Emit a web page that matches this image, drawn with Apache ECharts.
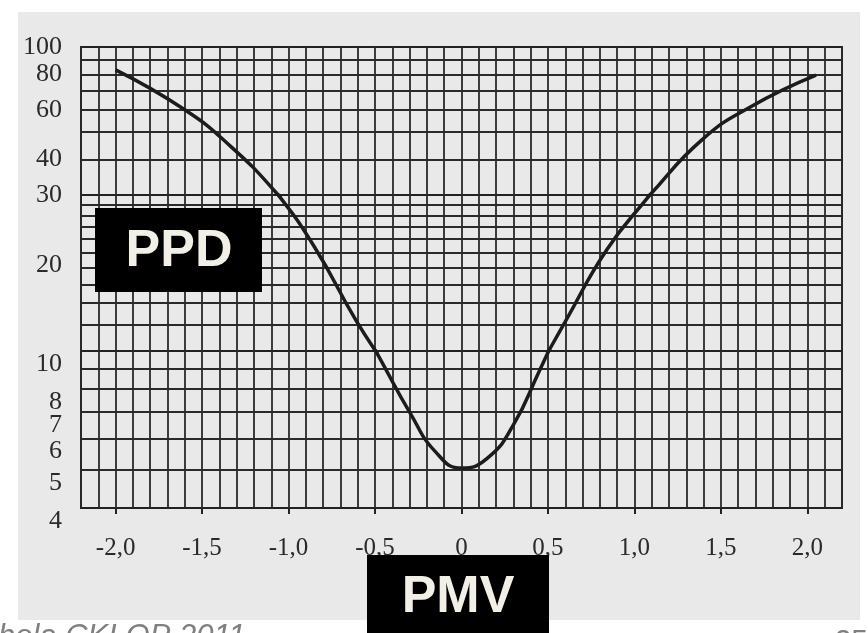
<!DOCTYPE html>
<html>
<head>
<meta charset="utf-8">
<script src="https://cdn.jsdelivr.net/npm/echarts@6/dist/echarts.min.js"></script>
<style>
  html, body { margin: 0; padding: 0; background: #fff; }
  #chart { width: 868px; height: 633px; }
</style>
</head>
<body>
<div id="chart"></div>
<script>
// PPD (%) vs PMV
var pmv = [-2.0, -1.6, -1.33, -1.07, -0.85, -0.61, -0.45, -0.3, -0.15, 0, 0.15, 0.3, 0.45, 0.6, 0.84, 1.08, 1.39, 1.67, 2.05];
var ppd = [83, 60, 44.3, 30.5, 20.8, 12.4, 9.2, 7.0, 5.55, 5.05, 5.35, 6.5, 8.9, 12.3, 20.4, 29.6, 47, 61.4, 79.5];

// x axis ticks
var xTickValues = [-2.0, -1.5, -1.0, -0.5, 0, 0.5, 1.0, 1.5, 2.0];

// the y scale of the figure is drawn in three log bands
var bandRanges = [[30, 100], [10, 30], [4, 10]];
var bandLines = [[40, 50, 60, 70, 80, 90], [12, 14, 16, 18, 20, 22, 24, 26, 28], [5, 6, 7, 8, 9]];
var bandLabels = [[30, 40, 60, 80, 100], [20], [4, 5, 6, 7, 8, 10]];

var bandTop = [47, 195, 351];
var bandHeight = [148, 156, 157];
var gridColor = '#2a2a2a';

var data = pmv.map(function (x, i) { return [x, ppd[i]]; });

var grids = [], xAxes = [], yAxes = [], series = [];
for (var i = 0; i < 3; i++) {
  grids.push({
    left: 81, right: 26, top: bandTop[i], height: bandHeight[i],
    show: true, borderColor: '#222', borderWidth: 2
  });
  xAxes.push({
    gridIndex: i, type: 'value', position: 'bottom', min: -2.2, max: 2.2, interval: 0.1,
    axisLine: { show: false }, axisTick: { show: false }, axisLabel: { show: false },
    splitLine: { show: true, lineStyle: { color: gridColor, width: 1.8 } }
  });
  yAxes.push({
    gridIndex: i, type: 'log', logBase: 10, min: bandRanges[i][0], max: bandRanges[i][1],
    axisLine: { show: false }, axisTick: { show: false }, splitLine: { show: false },
    axisLabel: {
      show: true, customValues: bandLabels[i], margin: 19,
      fontFamily: 'Liberation Serif', fontSize: 26, color: '#2a2a2a',
      verticalAlign: i === 0 ? 'middle' : 'top'
    }
  });
  series.push({
    type: 'line', xAxisIndex: i, yAxisIndex: i, data: data,
    smooth: 0.5, showSymbol: false, clip: true, animation: false,
    lineStyle: { color: '#1c1c1c', width: 3.5 },
    markLine: {
      silent: true, symbol: 'none', animation: false,
      label: { show: false },
      lineStyle: { color: gridColor, width: 1.8, type: 'solid' },
      data: bandLines[i].map(function (v) { return { yAxis: v }; })
    },
    z: 5
  });
}

// labelled PMV axis under the lowest band
xAxes.push({
  gridIndex: 2, type: 'value', position: 'bottom', min: -2.2, max: 2.2,
  axisLine: { show: false },
  splitLine: { show: false },
  axisTick: { show: true, inside: false, length: 6, customValues: xTickValues, lineStyle: { color: '#222', width: 2 } },
  axisLabel: {
    show: true, customValues: xTickValues, margin: 28,
    fontFamily: 'Liberation Serif', fontSize: 25, color: '#2a2a2a',
    formatter: function (v) { return v === 0 ? '0' : v.toFixed(1).replace('.', ','); }
  }
});

var myChart = echarts.init(document.getElementById('chart'));
myChart.setOption({
  animation: false,
  graphic: [
    { type: 'rect', z: -10, shape: { x: 18, y: 12, width: 842, height: 608 }, style: { fill: '#e9e9e9' } },
    { type: 'rect', z: 100, shape: { x: 95, y: 208, width: 167, height: 84 }, style: { fill: '#000' } },
    { type: 'text', z: 101, style: { text: 'PPD', x: 179, y: 252, textAlign: 'center', textVerticalAlign: 'middle',
      font: 'bold 52px "Liberation Sans", Arial, sans-serif', fill: '#f2efe6' } },
    { type: 'rect', z: 100, shape: { x: 367, y: 555, width: 182, height: 78 }, style: { fill: '#000' } },
    { type: 'text', z: 101, style: { text: 'PMV', x: 458, y: 598, textAlign: 'center', textVerticalAlign: 'middle',
      font: 'bold 52px "Liberation Sans", Arial, sans-serif', fill: '#f2efe6' } },
    { type: 'text', z: 101, style: { text: 'hola CKLOP 2011', x: -2, y: 622, textAlign: 'left', textVerticalAlign: 'top',
      font: 'italic 31px "Liberation Sans", Arial, sans-serif', fill: '#808080' } },
    { type: 'text', z: 101, style: { text: '25', x: 868, y: 627, textAlign: 'right', textVerticalAlign: 'top',
      font: '30px "Liberation Sans", Arial, sans-serif', fill: '#808080' } }
  ],
  grid: grids,
  xAxis: xAxes,
  yAxis: yAxes,
  series: series
});
</script>
</body>
</html>
